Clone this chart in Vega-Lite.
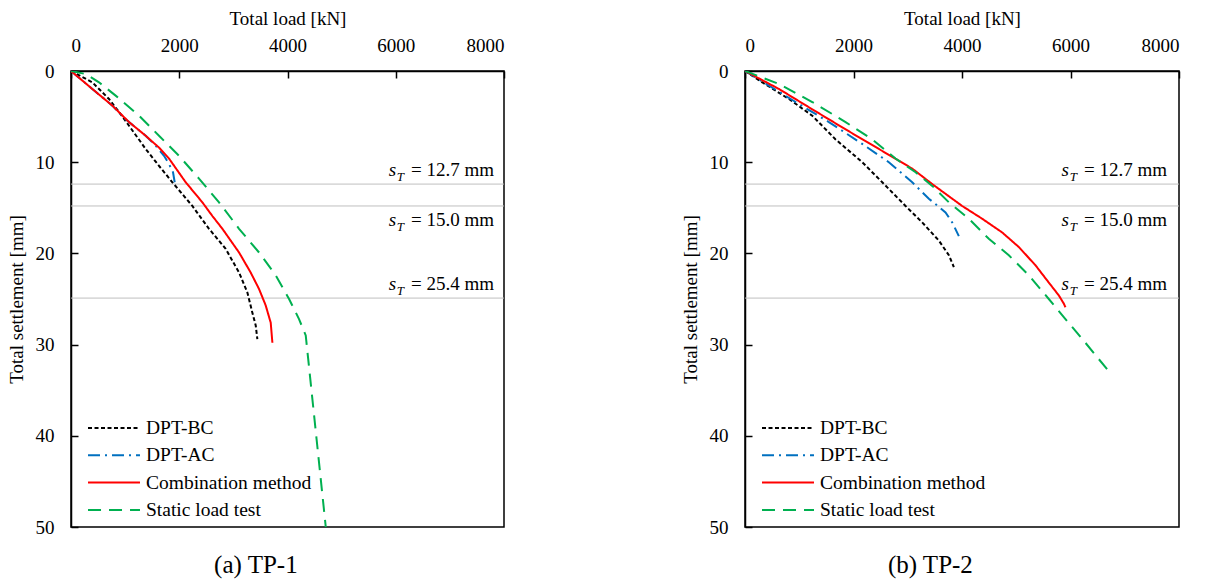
{
  "$schema": "https://vega.github.io/schema/vega-lite/v6.json",
  "padding": {"left": 6, "top": 8, "right": 5, "bottom": 0},
  "background": "white",
  "spacing": 241,
  "bounds": "flush",
  "config": {
    "font": "Liberation Serif",
    "view": {"stroke": "black", "strokeWidth": 1.5},
    "axis": {
      "grid": false,
      "domainColor": "black",
      "domainWidth": 1.5,
      "tickColor": "black",
      "tickWidth": 1.5,
      "tickSize": -7,
      "labelFontSize": 19,
      "titleFontSize": 19,
      "titleFontWeight": "normal",
      "labelColor": "black",
      "titleColor": "black",
      "labelFont": "Liberation Serif",
      "titleFont": "Liberation Serif"
    },
    "legend": {
      "orient": "none",
      "legendX": 16,
      "legendY": 347,
      "title": null,
      "symbolType": "stroke",
      "symbolSize": 2700,
      "symbolStrokeWidth": 2,
      "labelFontSize": 19.5,
      "labelFont": "Liberation Serif",
      "labelColor": "black",
      "labelOffset": 5,
      "labelLimit": 400,
      "clipHeight": 20,
      "rowPadding": 7.3,
      "padding": 0
    }
  },
  "datasets": {
    "tp1": [
      {"method": "DPT-BC", "load": 0, "settlement": 0},
      {"method": "DPT-BC", "load": 394, "settlement": 1.24},
      {"method": "DPT-BC", "load": 702, "settlement": 3.07},
      {"method": "DPT-BC", "load": 887, "settlement": 4.5},
      {"method": "DPT-BC", "load": 1072, "settlement": 6.0},
      {"method": "DPT-BC", "load": 1380, "settlement": 8.55},
      {"method": "DPT-BC", "load": 1626, "settlement": 10.4},
      {"method": "DPT-BC", "load": 1873, "settlement": 12.2},
      {"method": "DPT-BC", "load": 2242, "settlement": 14.8},
      {"method": "DPT-BC", "load": 2550, "settlement": 17.3},
      {"method": "DPT-BC", "load": 2858, "settlement": 19.5},
      {"method": "DPT-BC", "load": 3105, "settlement": 22.1},
      {"method": "DPT-BC", "load": 3259, "settlement": 24.3},
      {"method": "DPT-BC", "load": 3351, "settlement": 26.5},
      {"method": "DPT-BC", "load": 3413, "settlement": 27.9},
      {"method": "DPT-BC", "load": 3443, "settlement": 29.4},
      {"method": "DPT-AC", "load": 0, "settlement": 0},
      {"method": "DPT-AC", "load": 394, "settlement": 1.97},
      {"method": "DPT-AC", "load": 764, "settlement": 3.8},
      {"method": "DPT-AC", "load": 1010, "settlement": 5.3},
      {"method": "DPT-AC", "load": 1380, "settlement": 7.1},
      {"method": "DPT-AC", "load": 1565, "settlement": 8.2},
      {"method": "DPT-AC", "load": 1719, "settlement": 9.3},
      {"method": "DPT-AC", "load": 1811, "settlement": 10.2},
      {"method": "DPT-AC", "load": 1885, "settlement": 11.1},
      {"method": "DPT-AC", "load": 1916, "settlement": 12.2},
      {"method": "Combination method", "load": 0, "settlement": 0},
      {"method": "Combination method", "load": 394, "settlement": 1.97},
      {"method": "Combination method", "load": 764, "settlement": 3.8},
      {"method": "Combination method", "load": 1072, "settlement": 5.6},
      {"method": "Combination method", "load": 1380, "settlement": 7.1},
      {"method": "Combination method", "load": 1626, "settlement": 8.4},
      {"method": "Combination method", "load": 1811, "settlement": 9.6},
      {"method": "Combination method", "load": 2119, "settlement": 12.2},
      {"method": "Combination method", "load": 2427, "settlement": 14.4},
      {"method": "Combination method", "load": 2612, "settlement": 15.9},
      {"method": "Combination method", "load": 2797, "settlement": 17.3},
      {"method": "Combination method", "load": 3105, "settlement": 19.9},
      {"method": "Combination method", "load": 3320, "settlement": 22.1},
      {"method": "Combination method", "load": 3474, "settlement": 23.9},
      {"method": "Combination method", "load": 3597, "settlement": 25.7},
      {"method": "Combination method", "load": 3690, "settlement": 27.6},
      {"method": "Combination method", "load": 3721, "settlement": 29.8},
      {"method": "Static load test", "load": 0, "settlement": 0},
      {"method": "Static load test", "load": 271, "settlement": 0.33},
      {"method": "Static load test", "load": 517, "settlement": 1.24},
      {"method": "Static load test", "load": 825, "settlement": 2.7},
      {"method": "Static load test", "load": 1257, "settlement": 4.9},
      {"method": "Static load test", "load": 1626, "settlement": 7.1},
      {"method": "Static load test", "load": 1996, "settlement": 9.3},
      {"method": "Static load test", "load": 2365, "settlement": 11.8},
      {"method": "Static load test", "load": 2735, "settlement": 14.4},
      {"method": "Static load test", "load": 3105, "settlement": 17.3},
      {"method": "Static load test", "load": 3474, "settlement": 19.9},
      {"method": "Static load test", "load": 3782, "settlement": 22.4},
      {"method": "Static load test", "load": 4029, "settlement": 25.0},
      {"method": "Static load test", "load": 4213, "settlement": 27.2},
      {"method": "Static load test", "load": 4337, "settlement": 29.0},
      {"method": "Static load test", "load": 4707, "settlement": 50}
    ],
    "tp2": [
      {"method": "DPT-BC", "load": 0, "settlement": 0},
      {"method": "DPT-BC", "load": 319, "settlement": 1.24},
      {"method": "DPT-BC", "load": 810, "settlement": 3.07},
      {"method": "DPT-BC", "load": 1240, "settlement": 4.9},
      {"method": "DPT-BC", "load": 1670, "settlement": 7.5},
      {"method": "DPT-BC", "load": 2161, "settlement": 10.0},
      {"method": "DPT-BC", "load": 2530, "settlement": 12.2},
      {"method": "DPT-BC", "load": 2959, "settlement": 14.8},
      {"method": "DPT-BC", "load": 3266, "settlement": 16.6},
      {"method": "DPT-BC", "load": 3574, "settlement": 18.6},
      {"method": "DPT-BC", "load": 3758, "settlement": 20.2},
      {"method": "DPT-BC", "load": 3850, "settlement": 21.5},
      {"method": "DPT-AC", "load": 0, "settlement": 0},
      {"method": "DPT-AC", "load": 442, "settlement": 1.6},
      {"method": "DPT-AC", "load": 933, "settlement": 3.4},
      {"method": "DPT-AC", "load": 1547, "settlement": 5.6},
      {"method": "DPT-AC", "load": 2161, "settlement": 8.0},
      {"method": "DPT-AC", "load": 2652, "settlement": 10.0},
      {"method": "DPT-AC", "load": 3082, "settlement": 12.2},
      {"method": "DPT-AC", "load": 3389, "settlement": 14.0},
      {"method": "DPT-AC", "load": 3696, "settlement": 15.5},
      {"method": "DPT-AC", "load": 3819, "settlement": 16.6},
      {"method": "DPT-AC", "load": 3942, "settlement": 18.1},
      {"method": "Combination method", "load": 0, "settlement": 0},
      {"method": "Combination method", "load": 626, "settlement": 1.97},
      {"method": "Combination method", "load": 1240, "settlement": 4.2},
      {"method": "Combination method", "load": 1854, "settlement": 6.4},
      {"method": "Combination method", "load": 2468, "settlement": 8.55},
      {"method": "Combination method", "load": 3082, "settlement": 10.7},
      {"method": "Combination method", "load": 3451, "settlement": 12.4},
      {"method": "Combination method", "load": 4003, "settlement": 14.8},
      {"method": "Combination method", "load": 4372, "settlement": 16.2},
      {"method": "Combination method", "load": 4740, "settlement": 17.7},
      {"method": "Combination method", "load": 5047, "settlement": 19.3},
      {"method": "Combination method", "load": 5354, "settlement": 21.3},
      {"method": "Combination method", "load": 5600, "settlement": 23.2},
      {"method": "Combination method", "load": 5784, "settlement": 24.6},
      {"method": "Combination method", "load": 5876, "settlement": 25.5},
      {"method": "Combination method", "load": 5907, "settlement": 25.9},
      {"method": "Static load test", "load": 0, "settlement": 0},
      {"method": "Static load test", "load": 626, "settlement": 1.43},
      {"method": "Static load test", "load": 1240, "settlement": 3.4},
      {"method": "Static load test", "load": 1854, "settlement": 5.6},
      {"method": "Static load test", "load": 2345, "settlement": 7.5},
      {"method": "Static load test", "load": 2775, "settlement": 9.6},
      {"method": "Static load test", "load": 3144, "settlement": 11.1},
      {"method": "Static load test", "load": 3451, "settlement": 12.6},
      {"method": "Static load test", "load": 3758, "settlement": 14.4},
      {"method": "Static load test", "load": 4126, "settlement": 16.2},
      {"method": "Static load test", "load": 4494, "settlement": 18.4},
      {"method": "Static load test", "load": 4863, "settlement": 20.2},
      {"method": "Static load test", "load": 5231, "settlement": 22.4},
      {"method": "Static load test", "load": 5600, "settlement": 25.0},
      {"method": "Static load test", "load": 5907, "settlement": 27.2},
      {"method": "Static load test", "load": 6275, "settlement": 29.8},
      {"method": "Static load test", "load": 6674, "settlement": 32.7}
    ],
    "limits": [
      {"settlement": 12.4},
      {"settlement": 14.8},
      {"settlement": 24.9}
    ],
    "notes": [
      {"settlement": 11.5, "label": "= 12.7 mm"},
      {"settlement": 17.0, "label": "= 15.0 mm"},
      {"settlement": 24.0, "label": "= 25.4 mm"}
    ]
  },
  "resolve": {"scale": {"color": "independent", "strokeDash": "independent"}},
  "hconcat": [
    {
      "width": 433,
      "height": 456,
      "title": {"text": "(a) TP-1", "orient": "bottom", "frame": "bounds", "anchor": "middle", "fontSize": 25, "fontWeight": "normal", "font": "Liberation Serif", "color": "black", "offset": 16},
      "encoding": {
        "y": {"field": "settlement", "type": "quantitative", "scale": {"domain": [0, 50], "reverse": true, "nice": false}, "axis": {"orient": "left", "title": "Total settlement [mm]", "values": [0, 10, 20, 30, 40, 50], "labelPadding": 24, "titlePadding": 9}}
      },
      "layer": [
        {
          "data": {"name": "limits"},
          "mark": {"type": "rule", "color": "#BFBFBF", "strokeWidth": 1}
        },
        {
          "data": {"name": "tp1"},
          "mark": {"type": "line", "strokeWidth": 2, "clip": true},
          "encoding": {
            "x": {"field": "load", "type": "quantitative", "scale": {"domain": [0, 8000], "nice": false}, "axis": {"orient": "top", "title": "Total load [kN]", "values": [0, 2000, 4000, 6000, 8000], "format": "d", "labelPadding": 23, "titlePadding": 8}},
            "color": {"field": "method", "type": "nominal", "scale": {"domain": ["DPT-BC", "DPT-AC", "Combination method", "Static load test"], "range": ["#000000", "#0070C0", "#FF0000", "#00B050"]}},
            "strokeDash": {"field": "method", "type": "nominal", "scale": {"domain": ["DPT-BC", "DPT-AC", "Combination method", "Static load test"], "range": [[4, 2.5], [12, 5, 2, 5], [1, 0], [13, 8]]}},
            "order": {"field": "settlement", "type": "quantitative"}
          }
        },
        {
          "data": {"name": "notes"},
          "mark": {"type": "text", "align": "right", "baseline": "alphabetic", "fontSize": 19, "font": "Liberation Serif", "color": "black"},
          "encoding": {
            "x": {"datum": 7817, "type": "quantitative"},
            "text": {"field": "label"}
          }
        },
        {
          "data": {"name": "notes"},
          "mark": {"type": "text", "align": "right", "baseline": "alphabetic", "fontSize": 13, "fontStyle": "italic", "font": "Liberation Serif", "color": "black", "dx": -90, "dy": 5},
          "encoding": {
            "x": {"datum": 7817, "type": "quantitative"},
            "text": {"value": "T"}
          }
        },
        {
          "data": {"name": "notes"},
          "mark": {"type": "text", "align": "right", "baseline": "alphabetic", "fontSize": 19, "fontStyle": "italic", "font": "Liberation Serif", "color": "black", "dx": -98},
          "encoding": {
            "x": {"datum": 7817, "type": "quantitative"},
            "text": {"value": "s"}
          }
        }
      ]
    },
    {
      "width": 434,
      "height": 456,
      "title": {"text": "(b) TP-2", "orient": "bottom", "frame": "bounds", "anchor": "middle", "fontSize": 25, "fontWeight": "normal", "font": "Liberation Serif", "color": "black", "offset": 16},
      "encoding": {
        "y": {"field": "settlement", "type": "quantitative", "scale": {"domain": [0, 50], "reverse": true, "nice": false}, "axis": {"orient": "left", "title": "Total settlement [mm]", "values": [0, 10, 20, 30, 40, 50], "labelPadding": 24, "titlePadding": 9}}
      },
      "layer": [
        {
          "data": {"name": "limits"},
          "mark": {"type": "rule", "color": "#BFBFBF", "strokeWidth": 1}
        },
        {
          "data": {"name": "tp2"},
          "mark": {"type": "line", "strokeWidth": 2, "clip": true},
          "encoding": {
            "x": {"field": "load", "type": "quantitative", "scale": {"domain": [0, 8000], "nice": false}, "axis": {"orient": "top", "title": "Total load [kN]", "values": [0, 2000, 4000, 6000, 8000], "format": "d", "labelPadding": 23, "titlePadding": 8}},
            "color": {"field": "method", "type": "nominal", "scale": {"domain": ["DPT-BC", "DPT-AC", "Combination method", "Static load test"], "range": ["#000000", "#0070C0", "#FF0000", "#00B050"]}},
            "strokeDash": {"field": "method", "type": "nominal", "scale": {"domain": ["DPT-BC", "DPT-AC", "Combination method", "Static load test"], "range": [[4, 2.5], [12, 5, 2, 5], [1, 0], [13, 8]]}},
            "order": {"field": "settlement", "type": "quantitative"}
          }
        },
        {
          "data": {"name": "notes"},
          "mark": {"type": "text", "align": "right", "baseline": "alphabetic", "fontSize": 19, "font": "Liberation Serif", "color": "black"},
          "encoding": {
            "x": {"datum": 7778, "type": "quantitative"},
            "text": {"field": "label"}
          }
        },
        {
          "data": {"name": "notes"},
          "mark": {"type": "text", "align": "right", "baseline": "alphabetic", "fontSize": 13, "fontStyle": "italic", "font": "Liberation Serif", "color": "black", "dx": -90, "dy": 5},
          "encoding": {
            "x": {"datum": 7778, "type": "quantitative"},
            "text": {"value": "T"}
          }
        },
        {
          "data": {"name": "notes"},
          "mark": {"type": "text", "align": "right", "baseline": "alphabetic", "fontSize": 19, "fontStyle": "italic", "font": "Liberation Serif", "color": "black", "dx": -98},
          "encoding": {
            "x": {"datum": 7778, "type": "quantitative"},
            "text": {"value": "s"}
          }
        }
      ]
    }
  ]
}
